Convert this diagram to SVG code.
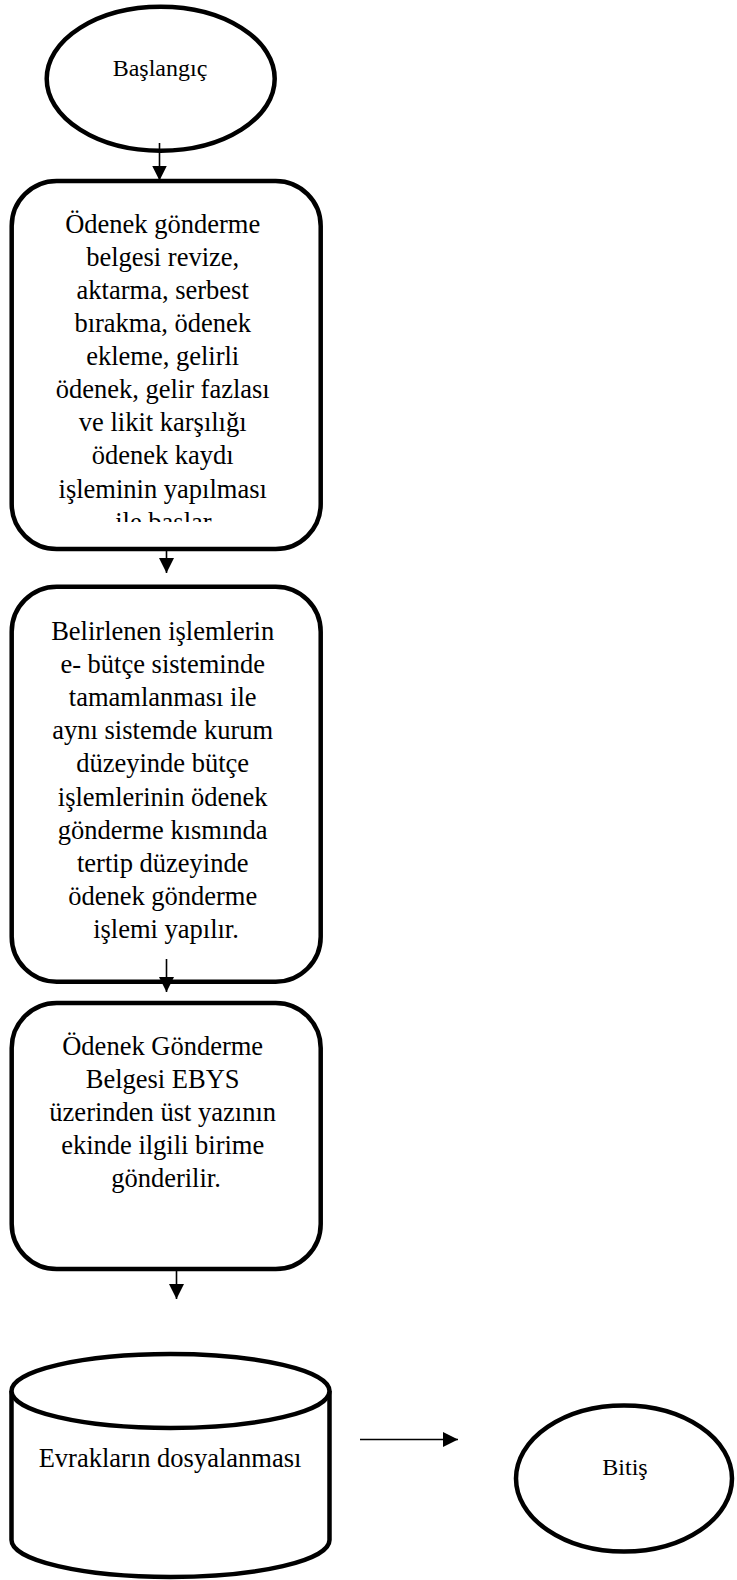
<svg xmlns="http://www.w3.org/2000/svg" width="737" height="1580" viewBox="0 0 737 1580">
<style>
.shape{fill:#fff;stroke:#000;stroke-width:4.5}
.conn{stroke:#000;stroke-width:1.6;fill:none}
.t{font-family:"Liberation Serif","Times New Roman",serif;font-size:26.5px;fill:#000;text-anchor:middle}
.tt{font-family:"Liberation Serif","Times New Roman",serif;font-size:24px;fill:#000;text-anchor:middle}
</style>
<defs>
<marker id="ah" markerUnits="userSpaceOnUse" markerWidth="15" markerHeight="15" refX="15" refY="7.5" orient="auto" viewBox="0 0 15 15">
<path d="M0,0 L15,7.5 L0,15 Z" fill="#000"/>
</marker>
<clipPath id="c1"><rect x="0" y="190" width="340" height="332"/></clipPath>
</defs>
<rect width="737" height="1580" fill="#fff"/>
<g id="start">
<ellipse class="shape" cx="160.7" cy="78.7" rx="114" ry="72"/>
<text class="tt" x="160" y="76">Başlangıç</text>
</g>
<g id="step1">
<rect class="shape" x="11.7" y="181" width="309" height="368" rx="45" ry="45"/>
<g clip-path="url(#c1)">
<text class="t" x="166">
<tspan x="166" y="232.7">Ödenek gönderme</tspan>
<tspan x="166" y="265.8">belgesi revize,</tspan>
<tspan x="166" y="298.9">aktarma, serbest</tspan>
<tspan x="166" y="332">bırakma, ödenek</tspan>
<tspan x="166" y="365.1">ekleme, gelirli</tspan>
<tspan x="166" y="398.2">ödenek, gelir fazlası</tspan>
<tspan x="166" y="431.3">ve likit karşılığı</tspan>
<tspan x="166" y="464.4">ödenek kaydı</tspan>
<tspan x="166" y="497.5">işleminin yapılması</tspan>
<tspan x="166" y="530.6">ile başlar.</tspan>
</text>
</g>
</g>
<g id="step2">
<rect class="shape" x="11.7" y="586.7" width="309" height="395" rx="45" ry="45"/>
<text class="t" x="166">
<tspan x="166" y="640">Belirlenen işlemlerin</tspan>
<tspan x="166" y="673.1">e- bütçe sisteminde</tspan>
<tspan x="166" y="706.2">tamamlanması ile</tspan>
<tspan x="166" y="739.3">aynı sistemde kurum</tspan>
<tspan x="166" y="772.4">düzeyinde bütçe</tspan>
<tspan x="166" y="805.5">işlemlerinin ödenek</tspan>
<tspan x="166" y="838.6">gönderme kısmında</tspan>
<tspan x="166" y="871.7">tertip düzeyinde</tspan>
<tspan x="166" y="904.8">ödenek gönderme</tspan>
<tspan x="166" y="937.9">işlemi yapılır.</tspan>
</text>
</g>
<g id="step3">
<rect class="shape" x="11.7" y="1003" width="309" height="266" rx="45" ry="45"/>
<text class="t" x="166">
<tspan x="166" y="1055">Ödenek Gönderme</tspan>
<tspan x="166" y="1088.1">Belgesi EBYS</tspan>
<tspan x="166" y="1121.2">üzerinden üst yazının</tspan>
<tspan x="166" y="1154.3">ekinde ilgili birime</tspan>
<tspan x="166" y="1187.4">gönderilir.</tspan>
</text>
</g>
<g id="archive">
<path class="shape" d="M11.5,1391 L11.5,1540 A159,37 0 0,0 329.5,1540 L329.5,1391"/>
<ellipse class="shape" cx="170.5" cy="1391" rx="159" ry="37"/>
<text class="t" x="170" y="1467">Evrakların dosyalanması</text>
</g>
<g id="end">
<ellipse class="shape" cx="624" cy="1478.5" rx="108" ry="73"/>
<text class="tt" x="625" y="1475">Bitiş</text>
</g>
<g id="connectors">
<line class="conn" x1="159.5" y1="143" x2="159.5" y2="180.5" marker-end="url(#ah)"/>
<line class="conn" x1="166.5" y1="551" x2="166.5" y2="573" marker-end="url(#ah)"/>
<line class="conn" x1="166.5" y1="959" x2="166.5" y2="992" marker-end="url(#ah)"/>
<line class="conn" x1="176.5" y1="1270" x2="176.5" y2="1299" marker-end="url(#ah)"/>
<line class="conn" x1="360" y1="1439.5" x2="458" y2="1439.5" marker-end="url(#ah)"/>
</g>
</svg>
